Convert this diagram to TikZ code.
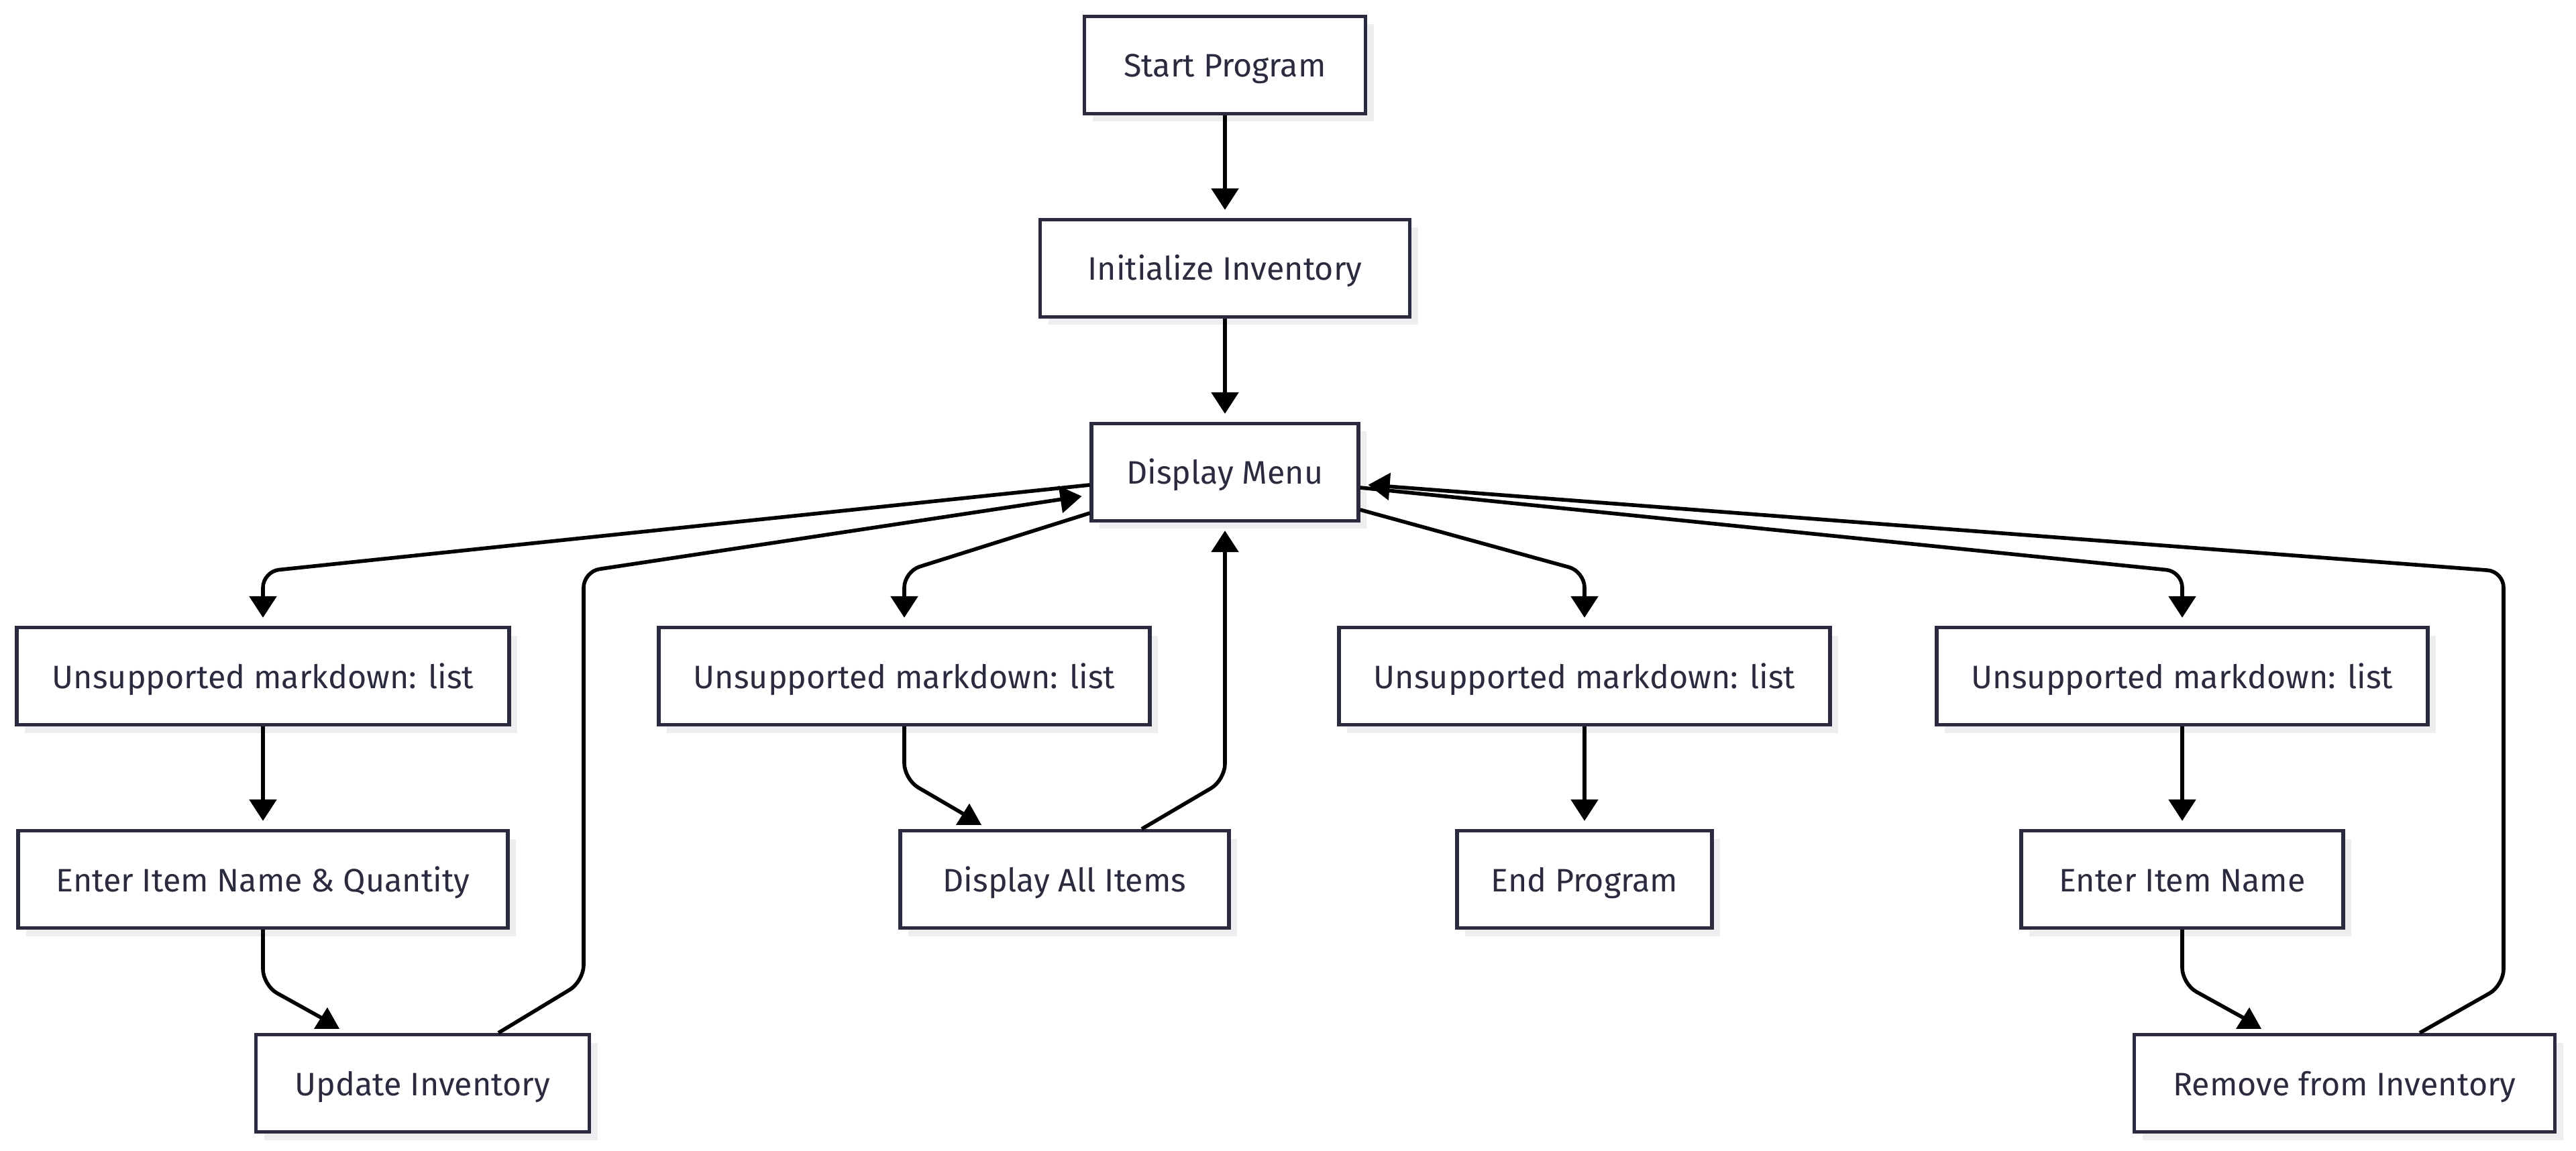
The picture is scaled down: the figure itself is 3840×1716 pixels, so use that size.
\documentclass[tikz,border=0pt]{standalone}
\usepackage{fontspec}
\setmainfont{Fira Sans}
\usetikzlibrary{arrows.meta,calc}
\definecolor{boxline}{HTML}{2B2B40}
\definecolor{boxtext}{HTML}{2B2B40}
\definecolor{shadowc}{HTML}{EEEEF0}
\begin{document}
\begin{tikzpicture}[x=0.5pt,y=-0.5pt,
  box/.style={draw=boxline, line width=2.6pt, fill=white, text=boxtext,
    minimum height=72.5pt, inner sep=0pt, text height=22pt, text depth=4pt,
    font=\fontsize{24.2}{29}\selectfont,
    preaction={fill=shadowc, transform canvas={xshift=6pt,yshift=-6pt}}},
  conn/.style={line width=2.8pt, black, rounded corners=12pt},
  arr/.style={conn, -{Triangle[length=16pt,width=20pt]}, shorten >=6pt},
  tipfill/.style={fill=black}
]
\useasboundingbox (0,0) rectangle (3840,1716);

\node[box, minimum width=209.5pt] (start) at (1826,97) {Start Program};
\node[box, minimum width=275.5pt] (init) at (1826,400) {Initialize Inventory};
\node[box, minimum width=199pt] (menu) at (1826,704) {Display Menu};
\node[box, minimum width=367pt] (l1) at (392,1008) {Unsupported markdown: list};
\node[box, minimum width=366pt] (l2) at (1348,1008) {Unsupported markdown: list};
\node[box, minimum width=366pt] (l3) at (2362,1008) {Unsupported markdown: list};
\node[box, minimum width=366pt] (l4) at (3253,1008) {Unsupported markdown: list};
\node[box, minimum width=365pt] (addin) at (392,1311) {Enter Item Name \& Quantity};
\node[box, minimum width=245pt] (show) at (1587,1311) {Display All Items};
\node[box, minimum width=190pt] (endp) at (2362,1311) {End Program};
\node[box, minimum width=240pt] (remin) at (3253,1311) {Enter Item Name};
\node[box, minimum width=248.5pt] (upd) at (630,1615) {Update Inventory};
\node[box, minimum width=313.5pt] (rem) at (3495,1615) {Remove from Inventory};

% straight vertical connectors
\draw[arr] (start) -- (init);
\draw[arr] (init) -- (menu);
\draw[arr] (l1) -- (addin);
\draw[arr] (l3) -- (endp);
\draw[arr] (l4) -- (remin);

% menu to the option boxes
\draw[arr] ($(menu.west)+(0,19)$) -- (392,852) -- (l1.north);
\draw[arr] ($(menu.west)+(0,61)$) -- (1348,852) -- (l2.north);
\draw[arr] ($(menu.east)+(0,56)$) -- (2362,852) -- (l3.north);
\draw[arr] ($(menu.east)+(0,23)$) -- (3253,852) -- (l4.north);

% back to the menu
\draw[arr] ($(upd.north)+(113,0)$) -- (870,1463) -- (870,852) -- ($(menu.west)+(0,34)$);
\draw[arr] ($(show.north)+(115,0)$) -- (1826,1163) -- (menu.south);
\draw[arr] ($(rem.north)+(112,0)$) -- (3732,1469) -- (3732,852) -- ($(menu.east)+(0,18)$);

% diagonal connectors with their tips
\draw[conn] (addin.south) -- (392,1469) -- ($(upd.north)+(-150,-22)$);
\fill[tipfill] ($(upd.north)+(-142,-38)$) -- ($(upd.north)+(-162,-6)$) -- ($(upd.north)+(-124,-6)$) -- cycle;
\draw[conn] (l2.south) -- (1348,1162) -- ($(show.north)+(-150,-22)$);
\fill[tipfill] ($(show.north)+(-142,-38)$) -- ($(show.north)+(-162,-6)$) -- ($(show.north)+(-124,-6)$) -- cycle;
\draw[conn] (remin.south) -- (3253,1467) -- ($(rem.north)+(-150,-22)$);
\fill[tipfill] ($(rem.north)+(-142,-38)$) -- ($(rem.north)+(-162,-6)$) -- ($(rem.north)+(-124,-6)$) -- cycle;
\end{tikzpicture}
\end{document}
